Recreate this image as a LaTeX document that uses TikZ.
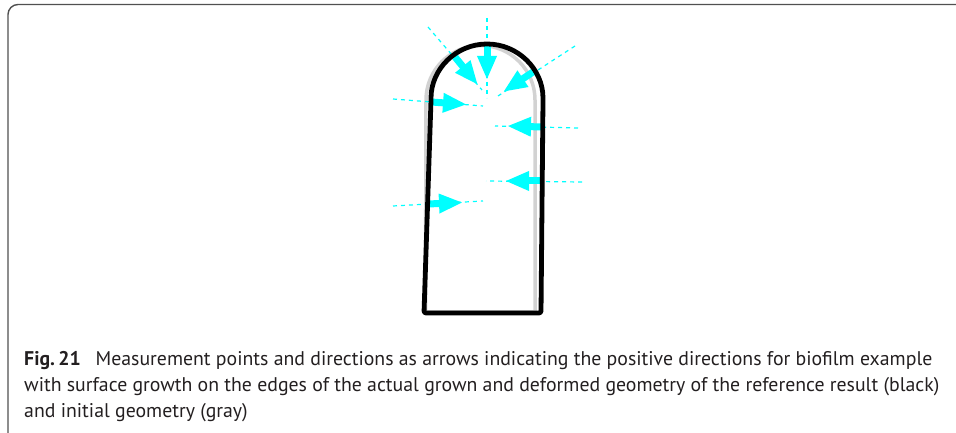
\documentclass[tikz,border=0pt]{standalone}
\usepackage{fontspec}
\setmainfont{PT Sans}
\usetikzlibrary{arrows.meta,calc}
\definecolor{measCyan}{HTML}{00FFFF}
\definecolor{initGray}{HTML}{D2D2D2}
\definecolor{frameGray}{HTML}{505050}
\definecolor{capText}{HTML}{231F20}

\begin{document}
\begin{tikzpicture}[
  x=1pt, y=1pt,
  frame/.style   ={draw=frameGray, line width=1.4pt, rounded corners=10pt},
  initial/.style ={draw=initGray, line width=3.5pt, line join=round},
  grown/.style   ={draw=black, line width=4.8pt, line join=round, rounded corners=2pt},
  meas/.style    ={draw=measCyan, line width=7pt, -{Triangle[length=24pt, width=18pt]}},
  measline/.style={draw=measCyan, line width=1.2pt, dash pattern=on 4pt off 4pt},
  captext/.style ={anchor=base west, inner sep=0pt, text=capText, font=\fontsize{19.8}{26}\selectfont},
]
\useasboundingbox (0,0) rectangle (956,433);

% ==================== frame ====================
\draw[frame] (8,-2) -- (8,428.5) -- (960,428.5);

% ==================== initial geometry (gray) ====================
\draw[initial] (425.5,121) -- (426,333) arc[start angle=180, end angle=0, radius=54.5] -- (535,121) -- cycle;

% ==================== measurement points ====================
% m = point on the edge, t = arrow tip, o/i = ends of the dashed direction line
\coordinate (m1) at (487,388); \coordinate (t1) at (487,353);
\coordinate (o1) at (487,415); \coordinate (i1) at (487,335);

\coordinate (m2) at (455,376); \coordinate (t2) at (478,348);
\coordinate (o2) at (428,406); \coordinate (i2) at (482,343);

\coordinate (m3) at (533,361); \coordinate (t3) at (503,341);
\coordinate (o3) at (575,387); \coordinate (i3) at (498,337);

\coordinate (m4) at (431,331); \coordinate (t4) at (467,328.5);
\coordinate (o4) at (393,334); \coordinate (i4) at (483,327);

\coordinate (m5) at (542,306); \coordinate (t5) at (507,307);
\coordinate (o5) at (578,305); \coordinate (i5) at (495,307);

\coordinate (m6) at (541,252); \coordinate (t6) at (505,252);
\coordinate (o6) at (582,251); \coordinate (i6) at (486,252);

\coordinate (m7) at (428,229); \coordinate (t7) at (463,230.5);
\coordinate (o7) at (393,227); \coordinate (i7) at (483,232);

% dashed directions
\draw[measline] (o1) -- (i1);
\draw[measline] (o2) -- (i2);
\draw[measline] (o3) -- (i3);
\draw[measline] (o4) -- (i4);
\draw[measline] (o5) -- (i5);
\draw[measline] (o6) -- (i6);
\draw[measline] (o7) -- (i7);

% arrows (positive directions)
\draw[meas] (m1) -- (t1);
\draw[meas] (m2) -- (t2);
\draw[meas] (m3) -- (t3);
\draw[meas] (m4) -- (t4);
\draw[meas] (m5) -- (t5);
\draw[meas] (m6) -- (t6);
\draw[meas] (m7) -- (t7);

% ==================== grown geometry (black) ====================
\draw[grown] (424,120) -- (431,333) arc[start angle=180, end angle=0, radius=56] -- (541,120) -- cycle;

% ==================== caption ====================
\node[captext] (cap1) at (24,67) {\textbf{Fig.\,21}\hspace{0.75em}Measurement points and directions as arrows indicating the positive directions for biofilm example};
\node[captext] (cap2) at (24,41) {with surface growth on the edges of the actual grown and deformed geometry of the reference result (black)};
\node[captext] (cap3) at (24,15) {and initial geometry (gray)};

\end{tikzpicture}
\end{document}
